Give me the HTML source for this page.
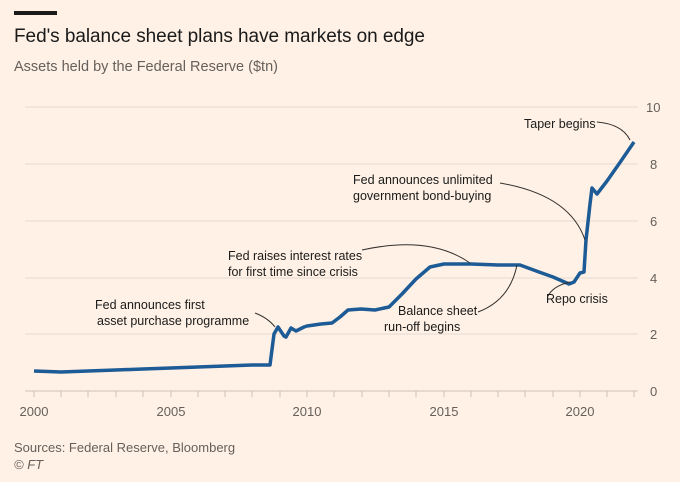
<!DOCTYPE html>
<html><head><meta charset="utf-8"><style>
body{margin:0;background:#fff1e5;}
svg{display:block;font-family:"Liberation Sans",sans-serif;}
</style></head><body>
<svg width="680" height="482" viewBox="0 0 680 482">
<rect width="680" height="482" fill="#fff1e5"/>
<rect x="14" y="11" width="43" height="4" fill="#1a1a1a"/>
<text x="14" y="42" font-size="19" fill="#1a1a1a" textLength="411">Fed's balance sheet plans have markets on edge</text>
<text x="14" y="71" font-size="14.5" fill="#66605c" textLength="264">Assets held by the Federal Reserve ($tn)</text>
<g stroke="#e6dbd2" stroke-width="1">
<line x1="25" y1="107" x2="638" y2="107"/><line x1="25" y1="164" x2="638" y2="164"/>
<line x1="25" y1="221" x2="638" y2="221"/><line x1="25" y1="278" x2="638" y2="278"/>
<line x1="25" y1="334" x2="638" y2="334"/>
</g>
<line x1="25" y1="391" x2="638" y2="391" stroke="#ccc1b7"/>
<g stroke="#ccc1b7">
<path d="M34 391v6M61 391v6M88 391v6M116 391v6M143 391v6M171 391v6M198 391v6M225 391v6M252 391v6M280 391v6M307 391v6M334 391v6M362 391v6M389 391v6M416 391v6M444 391v6M471 391v6M498 391v6M525 391v6M553 391v6M580 391v6M607 391v6M634 391v6"/>
</g>
<g font-size="13" fill="#66605c">
<text x="646" y="112">10</text><text x="650" y="169">8</text><text x="650" y="226">6</text>
<text x="650" y="283">4</text><text x="650" y="339">2</text><text x="650" y="396">0</text>
<g text-anchor="middle"><text x="34" y="416">2000</text><text x="171" y="416">2005</text><text x="307" y="416">2010</text><text x="444" y="416">2015</text><text x="580" y="416">2020</text></g>
</g>
<polyline fill="none" stroke="#1d5b96" stroke-width="3.5" stroke-linejoin="round" points="
34,371 61,372 88,371 116,370 143,369 171,368 198,367 225,366 252,365 270,365 274,334 278,327 284,336 286,337 291,328 296,331 304,327 307,326 321,324 332,323 340,317 348,310 361,309 375,310 389,307 402,294 416,279 430,267 444,264 471,264 498,265 520,265 539,272 553,277 569,284 574,282 580,273 584,272 586,240 590,204 592,188 597,194 607,181 621,161 634,142"/>
<g fill="none" stroke="#33302e" stroke-width="1">
<path d="M597 122 Q622 124 630 140"/>
<path d="M500 183 Q570 195 585 240"/>
<path d="M362 250 Q430 235 470 263"/>
<path d="M478 312 Q510 300 517 265"/>
<path d="M255 313 Q268 318 275 327"/>
<path d="M548 296 Q553 286 570 282"/>
</g>
<g font-size="12.5" fill="#1a1a1a">
<text x="524" y="128">Taper begins</text>
<text x="353" y="184">Fed announces unlimited</text>
<text x="353" y="200">government bond-buying</text>
<text x="228" y="260">Fed raises interest rates</text>
<text x="228" y="276">for first time since crisis</text>
<text x="95" y="309">Fed announces first</text>
<text x="97" y="325">asset purchase programme</text>
<text x="398" y="315">Balance sheet</text>
<text x="384" y="331">run-off begins</text>
<text x="546" y="303">Repo crisis</text>
</g>
<text x="14" y="452" font-size="13" fill="#66605c">Sources: Federal Reserve, Bloomberg</text>
<text x="14" y="469" font-size="13" fill="#66605c" font-style="italic">© FT</text>
</svg>
</body></html>
